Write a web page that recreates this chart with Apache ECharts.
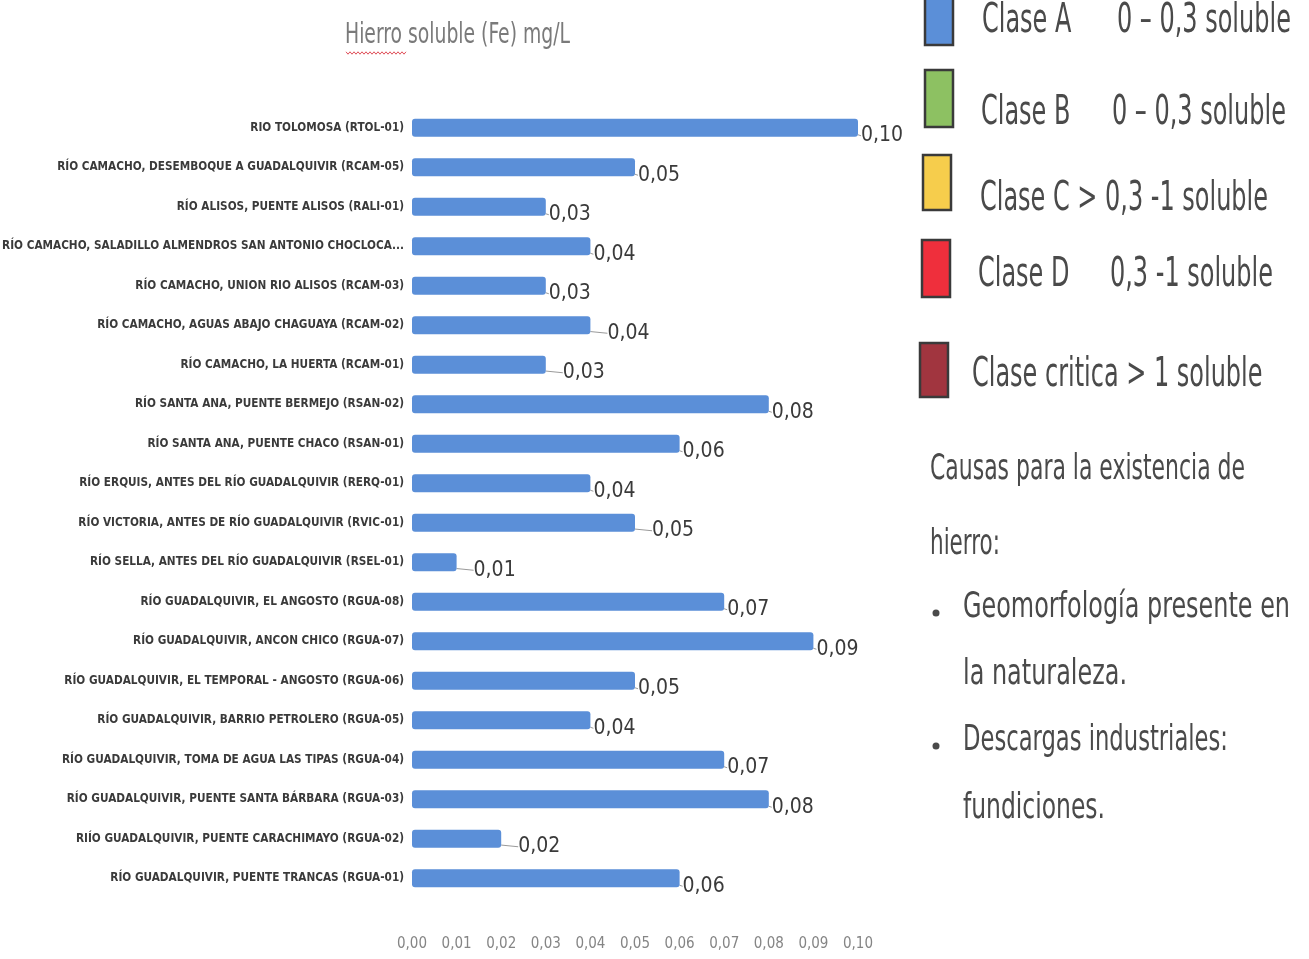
<!DOCTYPE html>
<html>
<head>
<meta charset="utf-8">
<title>Hierro soluble (Fe) mg/L</title>
<script src="https://cdn.jsdelivr.net/npm/echarts@6/dist/echarts.min.js"></script>
<style>
  html, body { margin: 0; padding: 0; background: #ffffff; }
  #chart { width: 1309px; height: 959px; }
</style>
</head>
<body>
<div id="chart"></div>
<script>
// Sampling stations, top to bottom
const stations = [
  'RIO TOLOMOSA (RTOL-01)',
  'RÍO CAMACHO, DESEMBOQUE A GUADALQUIVIR (RCAM-05)',
  'RÍO ALISOS, PUENTE ALISOS (RALI-01)',
  'RÍO CAMACHO, SALADILLO ALMENDROS SAN ANTONIO CHOCLOCA...',
  'RÍO CAMACHO, UNION RIO ALISOS (RCAM-03)',
  'RÍO CAMACHO, AGUAS ABAJO CHAGUAYA (RCAM-02)',
  'RÍO CAMACHO, LA HUERTA (RCAM-01)',
  'RÍO SANTA ANA, PUENTE BERMEJO (RSAN-02)',
  'RÍO SANTA ANA, PUENTE CHACO (RSAN-01)',
  'RÍO ERQUIS, ANTES DEL RÍO GUADALQUIVIR (RERQ-01)',
  'RÍO VICTORIA, ANTES DE RÍO GUADALQUIVIR (RVIC-01)',
  'RÍO SELLA, ANTES DEL RÍO GUADALQUIVIR (RSEL-01)',
  'RÍO GUADALQUIVIR, EL ANGOSTO (RGUA-08)',
  'RÍO GUADALQUIVIR, ANCON CHICO (RGUA-07)',
  'RÍO GUADALQUIVIR, EL TEMPORAL - ANGOSTO (RGUA-06)',
  'RÍO GUADALQUIVIR, BARRIO PETROLERO (RGUA-05)',
  'RÍO GUADALQUIVIR, TOMA DE AGUA LAS TIPAS (RGUA-04)',
  'RÍO GUADALQUIVIR, PUENTE SANTA BÁRBARA (RGUA-03)',
  'RIÍO GUADALQUIVIR, PUENTE CARACHIMAYO (RGUA-02)',
  'RÍO GUADALQUIVIR, PUENTE TRANCAS (RGUA-01)'
];

// Soluble iron, mg/L
const hierro = [0.10, 0.05, 0.03, 0.04, 0.03, 0.04, 0.03, 0.08, 0.06, 0.04,
                0.05, 0.01, 0.07, 0.09, 0.05, 0.04, 0.07, 0.08, 0.02, 0.06];

// Value axis ticks
const axisMin = 0;
const axisMax = 0.10;
const axisStep = 0.01;

// Stations whose value label sits off the bar with a short guide line
const guided = ['RÍO CAMACHO, AGUAS ABAJO CHAGUAYA (RCAM-02)',
                'RÍO CAMACHO, LA HUERTA (RCAM-01)',
                'RÍO VICTORIA, ANTES DE RÍO GUADALQUIVIR (RVIC-01)',
                'RÍO SELLA, ANTES DEL RÍO GUADALQUIVIR (RSEL-01)',
                'RIÍO GUADALQUIVIR, PUENTE CARACHIMAYO (RGUA-02)'];

// Quality classes shown in the key
const classNames = ['Clase A', 'Clase B', 'Clase C > 0,3 -1 soluble', 'Clase D', 'Clase critica > 1 soluble'];
const classRanges = ['0 – 0,3 soluble', '0 – 0,3 soluble', '', '0,3 -1 soluble', ''];
const classColors = ['#5b8fd8', '#8dc162', '#f6cd4c', '#ef2f3c', '#a1353f'];

// Notes beside the chart
const notesIntro = ['Causas para la existencia de', 'hierro:'];
const notesBullets = [['Geomorfología presente en', 'la naturaleza.'],
                      ['Descargas industriales:', 'fundiciones.']];

const fmt = v => v.toFixed(2).replace('.', ',');
const FONT = "'DejaVu Sans Condensed', 'Liberation Sans Narrow', sans-serif";

// Horizontal squeeze that makes a string occupy the given width in a tall, narrow face
const measureCtx = document.createElement('canvas').getContext('2d');
function squeezeFor(str, size, width) {
  measureCtx.font = size + 'px ' + FONT;
  return width / measureCtx.measureText(str).width;
}

const TEXT_DARK = '#4a4a4a';
const KEY_SIZE = 40;
const NOTE_SIZE = 35;
const TITLE_SIZE = 29;
const keySqueeze = squeezeFor('Clase C > 0,3 -1 soluble', KEY_SIZE, 288);
const titleSqueeze = squeezeFor('Hierro soluble (Fe) mg/L', TITLE_SIZE, 225);

const chart = echarts.init(document.getElementById('chart'), null, { renderer: 'canvas' });

function txt(str, x, y, size, color, squeeze) {
  return {
    type: 'text', x: x, y: y, scaleX: squeeze,
    style: { text: str, font: size + 'px ' + FONT, fill: color, textVerticalAlign: 'middle' }
  };
}

const graphics = [];

// Title with a spell-check squiggle under the first word
graphics.push(txt('Hierro soluble (Fe) mg/L', 345, 35, TITLE_SIZE, '#7a7a7a', titleSqueeze));
(function () {
  const pts = [];
  for (let i = 0; i <= 30; i++) pts.push([346 + i * 2, 53 + (i % 2 ? 1.2 : -1.2)]);
  graphics.push({ type: 'polyline', shape: { points: pts }, style: { stroke: '#e0505a', lineWidth: 1, fill: null } });
})();

// Class key
const keyRows = [
  { box: [925, -6, 28, 51], y: 22, x: 982, x2: 1117 },
  { box: [925, 70, 28, 57], y: 114, x: 981, x2: 1112 },
  { box: [923, 155, 28, 55], y: 200, x: 980, x2: 0 },
  { box: [922, 240, 28, 57], y: 276, x: 978, x2: 1110 },
  { box: [920, 343, 28, 54], y: 376, x: 972, x2: 0 }
];
keyRows.forEach((r, i) => {
  graphics.push({
    type: 'rect',
    shape: { x: r.box[0], y: r.box[1], width: r.box[2], height: r.box[3] },
    style: { fill: classColors[i], stroke: '#3a3a3a', lineWidth: 2.5 }
  });
  graphics.push(txt(classNames[i], r.x, r.y, KEY_SIZE, TEXT_DARK, keySqueeze));
  if (classRanges[i]) graphics.push(txt(classRanges[i], r.x2, r.y, KEY_SIZE, TEXT_DARK, keySqueeze));
});

// Notes: each line is fitted to its own width
const introRows = [{ y: 470, w: 315 }, { y: 545, w: 70 }];
notesIntro.forEach((l, i) => {
  graphics.push(txt(l, 930, introRows[i].y, NOTE_SIZE, TEXT_DARK, squeezeFor(l, NOTE_SIZE, introRows[i].w)));
});
const bulletRows = [[{ y: 608, w: 327 }, { y: 675, w: 164 }], [{ y: 741, w: 265 }, { y: 809, w: 142 }]];
notesBullets.forEach((lines, i) => {
  graphics.push({ type: 'circle', shape: { cx: 936, cy: bulletRows[i][0].y + 5, r: 3.5 }, style: { fill: TEXT_DARK } });
  lines.forEach((l, j) => {
    const row = bulletRows[i][j];
    graphics.push(txt(l, 963, row.y, NOTE_SIZE, TEXT_DARK, squeezeFor(l, NOTE_SIZE, row.w)));
  });
});

const option = {
  backgroundColor: '#ffffff',
  animation: false,
  grid: { left: 412, right: 451, top: 108, bottom: 61, containLabel: false, outerBoundsMode: 'none' },
  xAxis: {
    type: 'value',
    min: axisMin, max: axisMax, interval: axisStep,
    axisLine: { show: false }, axisTick: { show: false },
    splitLine: { show: false },
    axisLabel: {
      margin: 39, color: '#858585', fontFamily: FONT, fontSize: 15,
      formatter: v => fmt(v)
    }
  },
  yAxis: {
    type: 'category',
    data: stations,
    inverse: true,
    axisLine: { show: false }, axisTick: { show: false },
    axisLabel: {
      margin: 8, color: '#3a3a3a', fontFamily: FONT, fontWeight: 'bold', fontSize: 11.7
    }
  },
  series: [{
    type: 'bar',
    data: hierro.map((v, i) => ({ value: v, name: stations[i] })),
    barWidth: 18,
    itemStyle: { color: '#5b8fd8', borderRadius: 3 },
    label: {
      show: true, position: 'right', distance: 3,
      color: '#3a3a3a', fontFamily: FONT, fontSize: 21,
      formatter: p => fmt(p.value)
    },
    labelLayout: p => ({
      dx: guided.indexOf(stations[p.dataIndex]) >= 0 ? 14 : 0,
      dy: 8
    }),
    labelLine: { show: true, length2: 0, lineStyle: { color: '#9a9a9a', width: 1 } }
  }],
  graphic: graphics
};

chart.setOption(option);
</script>
</body>
</html>
